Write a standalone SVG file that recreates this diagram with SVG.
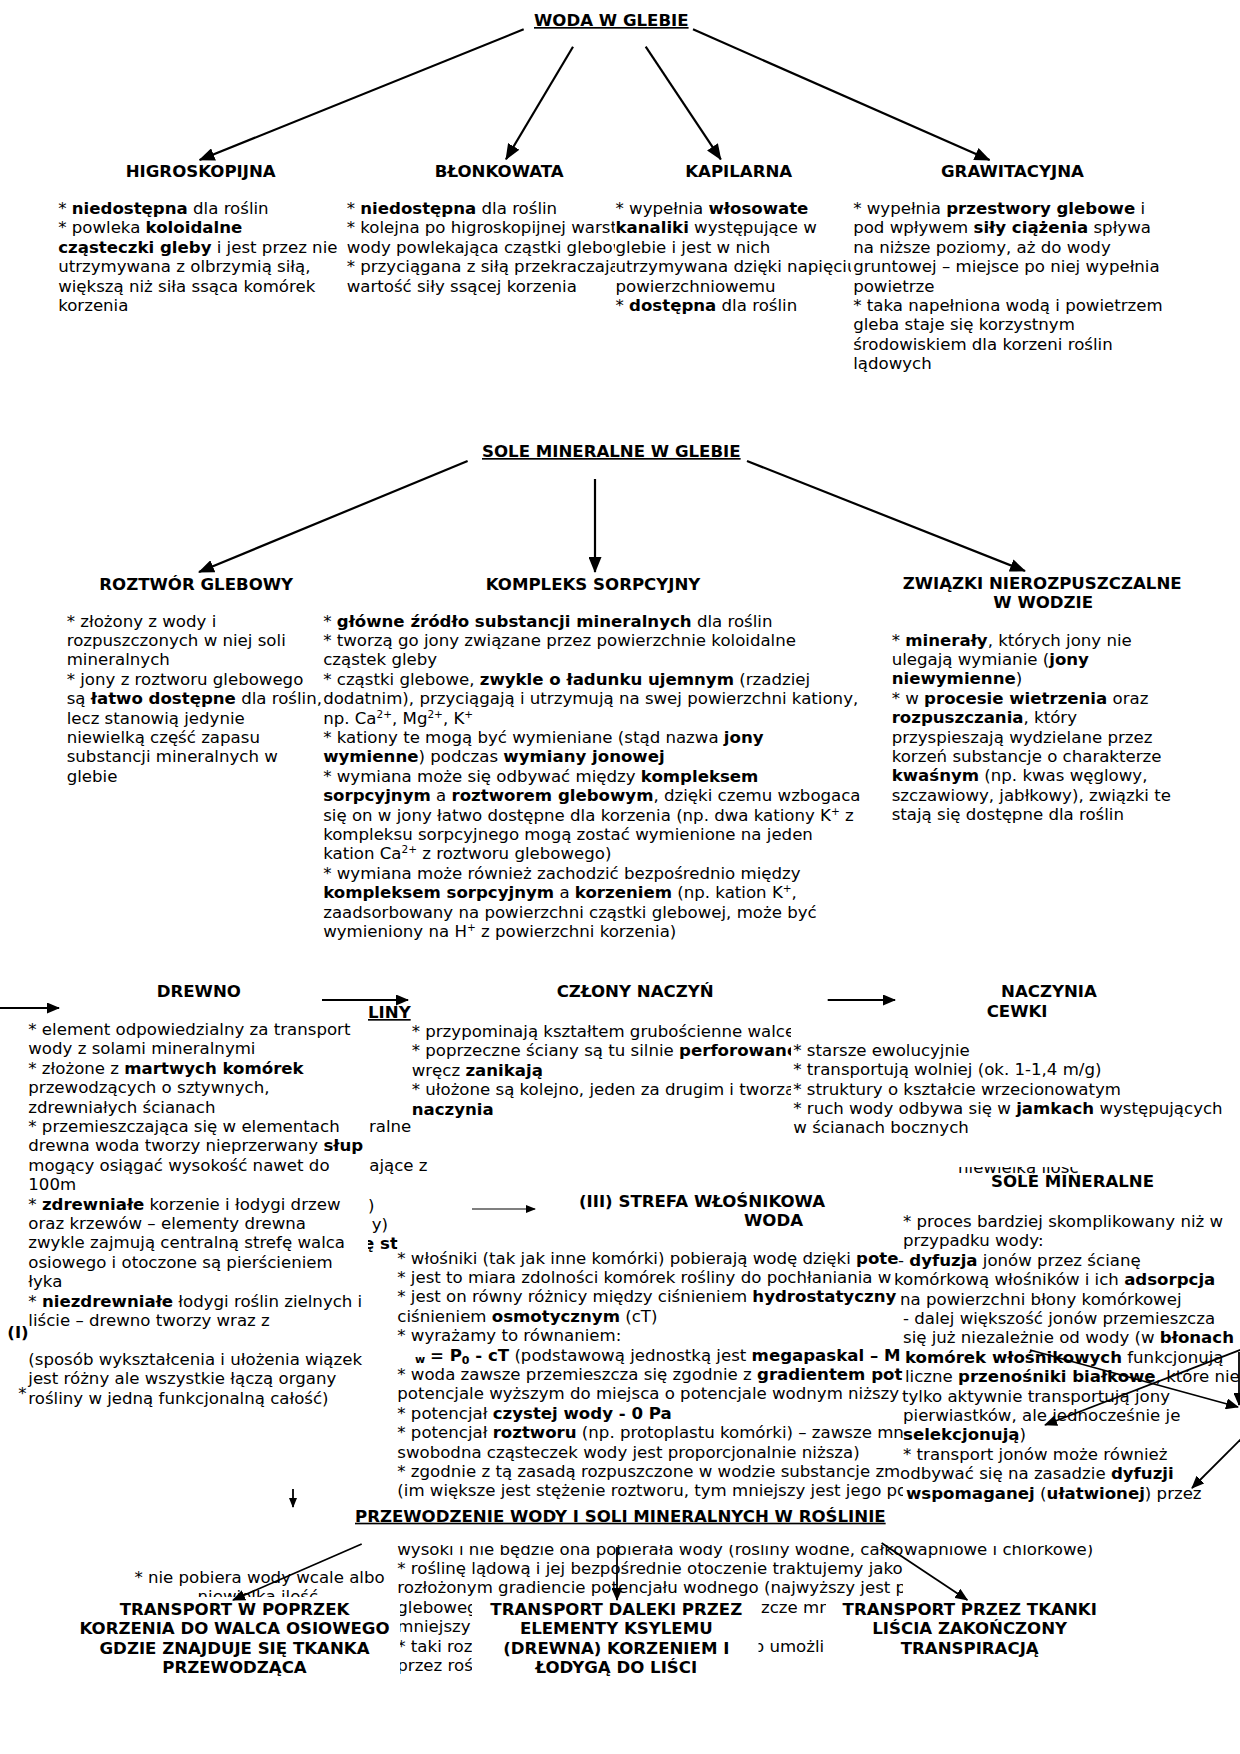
<svg xmlns="http://www.w3.org/2000/svg" width="1240" height="1754" viewBox="0 0 1240 1754">
<style>
text{font-family:"DejaVu Sans",Verdana,sans-serif;font-size:16.6px;fill:#000}
.b{font-weight:bold}
.u{text-decoration:underline}
.m{text-anchor:middle}
.sm{font-size:11px}
.sup{font-size:10.5px}
.ln{stroke:#000;stroke-width:2.2;fill:none}
.ln2{stroke:#000;stroke-width:1.8;fill:none}
.ln1{stroke:#000;stroke-width:1.1;fill:none}
.w{fill:#fff}
</style>
<defs>
<marker id="ah" markerUnits="userSpaceOnUse" viewBox="0 0 16 13" markerWidth="16" markerHeight="13" refX="15" refY="6.5" orient="auto"><path d="M0,0 L16,6.5 L0,13 z"/></marker>
<marker id="ahm" markerUnits="userSpaceOnUse" viewBox="0 0 13 11" markerWidth="13" markerHeight="11" refX="12" refY="5.5" orient="auto"><path d="M0,0 L13,5.5 L0,11 z"/></marker>
<marker id="ahs" markerUnits="userSpaceOnUse" viewBox="0 0 10 8" markerWidth="10" markerHeight="8" refX="9" refY="4" orient="auto"><path d="M0,0 L10,4 L0,8 z"/></marker>
<clipPath id="cBlon"><rect x="0" y="0" width="615" height="400"/></clipPath>
<clipPath id="cKap"><rect x="0" y="0" width="851" height="400"/></clipPath>
<clipPath id="cCzl"><rect x="0" y="900" width="791" height="300"/></clipPath>
<clipPath id="cStr"><rect x="0" y="1230" width="903" height="500"/></clipPath>
<clipPath id="cH1"><rect x="368" y="1100" width="120" height="135"/><rect x="368" y="1235" width="29.5" height="25"/></clipPath>
<clipPath id="cNw1"><rect x="900" y="1167" width="200" height="6.5"/></clipPath>
<clipPath id="cNw2"><rect x="150" y="1580" width="200" height="17"/></clipPath>
</defs>
<rect width="1240" height="1754" fill="#fff"/>

<g id="n-woda"><text class="b u" x="534" y="26">WODA W GLEBIE</text></g>

<g id="n-higroskopijna">
<text class="b" x="125.7" y="177">HIGROSKOPIJNA</text>
<text x="58.2" y="214">* <tspan class="b">niedostępna</tspan> dla roślin</text>
<text x="58.2" y="233.4">* powleka <tspan class="b">koloidalne</tspan></text>
<text x="58.2" y="252.8"><tspan class="b">cząsteczki gleby</tspan> i jest przez nie</text>
<text x="58.2" y="272.2">utrzymywana z olbrzymią siłą,</text>
<text x="58.2" y="291.6">większą niż siła ssąca komórek</text>
<text x="58.2" y="311">korzenia</text>
</g>

<g id="n-blonkowata">
<text class="b" x="434.8" y="177">BŁONKOWATA</text>
<g clip-path="url(#cBlon)">
<text x="346.7" y="214">* <tspan class="b">niedostępna</tspan> dla roślin</text>
<text x="346.7" y="233.4">* kolejna po higroskopijnej warstwie</text>
<text x="346.7" y="252.8">wody powlekająca cząstki glebowe</text>
<text x="346.7" y="272.2">* przyciągana z siłą przekraczającą</text>
<text x="346.7" y="291.6">wartość siły ssącej korzenia</text>
</g>
</g>

<g id="n-kapilarna">
<text class="b" x="685.2" y="177">KAPILARNA</text>
<g clip-path="url(#cKap)">
<text x="615.5" y="214">* wypełnia <tspan class="b">włosowate</tspan></text>
<text x="615.5" y="233.4"><tspan class="b">kanaliki</tspan> występujące w</text>
<text x="615.5" y="252.8">glebie i jest w nich</text>
<text x="615.5" y="272.2">utrzymywana dzięki napięciu</text>
<text x="615.5" y="291.6">powierzchniowemu</text>
<text x="615.5" y="311">* <tspan class="b">dostępna</tspan> dla roślin</text>
</g>
</g>

<g id="n-grawitacyjna">
<text class="b" x="941" y="177">GRAWITACYJNA</text>
<text x="853.2" y="214">* wypełnia <tspan class="b">przestwory glebowe</tspan> i</text>
<text x="853.2" y="233.4">pod wpływem <tspan class="b">siły ciążenia</tspan> spływa</text>
<text x="853.2" y="252.8">na niższe poziomy, aż do wody</text>
<text x="853.2" y="272.2">gruntowej – miejsce po niej wypełnia</text>
<text x="853.2" y="291.6">powietrze</text>
<text x="853.2" y="311">* taka napełniona wodą i powietrzem</text>
<text x="853.2" y="330.4">gleba staje się korzystnym</text>
<text x="853.2" y="349.8">środowiskiem dla korzeni roślin</text>
<text x="853.2" y="369.2">lądowych</text>
</g>

<g id="n-sole"><text class="b u" x="482" y="457">SOLE MINERALNE W GLEBIE</text></g>

<g id="n-roztwor">
<text class="b" x="99.3" y="589.5">ROZTWÓR GLEBOWY</text>
<text x="66.7" y="626.5">* złożony z wody i</text>
<text x="66.7" y="645.9">rozpuszczonych w niej soli</text>
<text x="66.7" y="665.3">mineralnych</text>
<text x="66.7" y="684.7">* jony z roztworu glebowego</text>
<text x="66.7" y="704.1">są <tspan class="b">łatwo dostępne</tspan> dla roślin,</text>
<text x="66.7" y="723.5">lecz stanowią jedynie</text>
<text x="66.7" y="742.9">niewielką część zapasu</text>
<text x="66.7" y="762.3">substancji mineralnych w</text>
<text x="66.7" y="781.7">glebie</text>
</g>

<g id="n-kompleks">
<text class="b" x="485.7" y="589.5">KOMPLEKS SORPCYJNY</text>
<text x="323.2" y="626.5">* <tspan class="b">główne źródło substancji mineralnych</tspan> dla roślin</text>
<text x="323.2" y="645.9">* tworzą go jony związane przez powierzchnie koloidalne</text>
<text x="323.2" y="665.3">cząstek gleby</text>
<text x="323.2" y="684.7">* cząstki glebowe, <tspan class="b">zwykle o ładunku ujemnym</tspan> (rzadziej</text>
<text x="323.2" y="704.1">dodatnim), przyciągają i utrzymują na swej powierzchni kationy,</text>
<text x="323.2" y="723.5">np. Ca<tspan class="sup" baseline-shift="super">2+</tspan>, Mg<tspan class="sup" baseline-shift="super">2+</tspan>, K<tspan class="sup" baseline-shift="super">+</tspan></text>
<text x="323.2" y="742.9">* kationy te mogą być wymieniane (stąd nazwa <tspan class="b">jony</tspan></text>
<text x="323.2" y="762.3"><tspan class="b">wymienne</tspan>) podczas <tspan class="b">wymiany jonowej</tspan></text>
<text x="323.2" y="781.7">* wymiana może się odbywać między <tspan class="b">kompleksem</tspan></text>
<text x="323.2" y="801.1"><tspan class="b">sorpcyjnym</tspan> a <tspan class="b">roztworem glebowym</tspan>, dzięki czemu wzbogaca</text>
<text x="323.2" y="820.5">się on w jony łatwo dostępne dla korzenia (np. dwa kationy K<tspan class="sup" baseline-shift="super">+</tspan> z</text>
<text x="323.2" y="839.9">kompleksu sorpcyjnego mogą zostać wymienione na jeden</text>
<text x="323.2" y="859.3">kation Ca<tspan class="sup" baseline-shift="super">2+</tspan> z roztworu glebowego)</text>
<text x="323.2" y="878.7">* wymiana może również zachodzić bezpośrednio między</text>
<text x="323.2" y="898.1"><tspan class="b">kompleksem sorpcyjnym</tspan> a <tspan class="b">korzeniem</tspan> (np. kation K<tspan class="sup" baseline-shift="super">+</tspan>,</text>
<text x="323.2" y="917.5">zaadsorbowany na powierzchni cząstki glebowej, może być</text>
<text x="323.2" y="936.9">wymieniony na H<tspan class="sup" baseline-shift="super">+</tspan> z powierzchni korzenia)</text>
</g>

<g id="n-zwiazki">
<text class="b" x="902.7" y="588.5">ZWIĄZKI NIEROZPUSZCZALNE</text>
<text class="b" x="993.3" y="608">W WODZIE</text>
<text x="891.7" y="645.5">* <tspan class="b">minerały</tspan>, których jony nie</text>
<text x="891.7" y="664.9">ulegają wymianie (<tspan class="b">jony</tspan></text>
<text x="891.7" y="684.3"><tspan class="b">niewymienne</tspan>)</text>
<text x="891.7" y="703.7">* w <tspan class="b">procesie wietrzenia</tspan> oraz</text>
<text x="891.7" y="723.1"><tspan class="b">rozpuszczania</tspan>, który</text>
<text x="891.7" y="742.5">przyspieszają wydzielane przez</text>
<text x="891.7" y="761.9">korzeń substancje o charakterze</text>
<text x="891.7" y="781.3"><tspan class="b">kwaśnym</tspan> (np. kwas węglowy,</text>
<text x="891.7" y="800.7">szczawiowy, jabłkowy), związki te</text>
<text x="891.7" y="820.1">stają się dostępne dla roślin</text>
</g>

<g id="frag-hidden" clip-path="url(#cH1)">
<text x="369" y="1131.5">ralne</text>
<text x="369.3" y="1171">ające z</text>
<text x="368" y="1210.5">)</text>
<text x="371.7" y="1229.5">y)</text>
<text x="363" y="1249" class="b">ę st</text>
</g>

<g id="n-drewno">
<text class="b" x="156.7" y="996.7">DREWNO</text>
<text x="28.3" y="1035">* element odpowiedzialny za transport</text>
<text x="28.3" y="1054.4">wody z solami mineralnymi</text>
<text x="28.3" y="1073.8">* złożone z <tspan class="b">martwych komórek</tspan></text>
<text x="28.3" y="1093.2">przewodzących o sztywnych,</text>
<text x="28.3" y="1112.6">zdrewniałych ścianach</text>
<text x="28.3" y="1132">* przemieszczająca się w elementach</text>
<text x="28.3" y="1151.4">drewna woda tworzy nieprzerwany <tspan class="b">słup</tspan></text>
<text x="28.3" y="1170.8">mogący osiągać wysokość nawet do</text>
<text x="28.3" y="1190.2">100m</text>
<text x="28.3" y="1209.6">* <tspan class="b">zdrewniałe</tspan> korzenie i łodygi drzew</text>
<text x="28.3" y="1229">oraz krzewów – elementy drewna</text>
<text x="28.3" y="1248.4">zwykle zajmują centralną strefę walca</text>
<text x="28.3" y="1267.8">osiowego i otoczone są pierścieniem</text>
<text x="28.3" y="1287.2">łyka</text>
<text x="28.3" y="1306.6">* <tspan class="b">niezdrewniałe</tspan> łodygi roślin zielnych i</text>
<text x="28.3" y="1326">liście – drewno tworzy wraz z</text>
<text x="28.3" y="1364.8">(sposób wykształcenia i ułożenia wiązek</text>
<text x="28.3" y="1384.2">jest różny ale wszystkie łączą organy</text>
<text x="28.3" y="1403.6">rośliny w jedną funkcjonalną całość)</text>
</g>
<g id="frag-left">
<text class="b" x="7.3" y="1338">(I)</text>
<text x="18.3" y="1399">*</text>
</g>

<g id="n-liny"><text class="b u" x="368" y="1018">LINY</text></g>

<g id="n-czlony">
<text class="b" x="556.7" y="996.7">CZŁONY NACZYŃ</text>
<g clip-path="url(#cCzl)">
<text x="411.7" y="1037">* przypominają kształtem grubościenne walce</text>
<text x="411.7" y="1056.4">* poprzeczne ściany są tu silnie <tspan class="b">perforowane</tspan></text>
<text x="411.7" y="1075.8">wręcz <tspan class="b">zanikają</tspan></text>
<text x="411.7" y="1095.2">* ułożone są kolejno, jeden za drugim i tworzą</text>
<text x="411.7" y="1114.6" class="b">naczynia</text>
</g>
</g>

<g id="n-naczynia">
<text class="b" x="1001" y="996.7">NACZYNIA</text>
<text class="b" x="986.7" y="1016.7">CEWKI</text>
<text x="793.3" y="1055.5">* starsze ewolucyjnie</text>
<text x="793.3" y="1075">* transportują wolniej (ok. 1-1,4 m/g)</text>
<text x="793.3" y="1094.5">* struktury o kształcie wrzecionowatym</text>
<text x="793.3" y="1114">* ruch wody odbywa się w <tspan class="b">jamkach</tspan> występujących</text>
<text x="793.3" y="1133">w ścianach bocznych</text>
</g>

<g id="frag-niewielka1" clip-path="url(#cNw1)"><text x="958" y="1173">niewielką ilość</text></g>

<g id="n-strefa">
<text class="b" x="579" y="1206.7">(III) STREFA WŁOŚNIKOWA</text>
<text class="b" x="744" y="1226">WODA</text>
<g clip-path="url(#cStr)">
<text x="397.3" y="1263.5">* włośniki (tak jak inne komórki) pobierają wodę dzięki <tspan class="b">pote</tspan></text>
<text x="397.3" y="1282.9">* jest to miara zdolności komórek rośliny do pochłaniania w</text>
<text x="397.3" y="1302.3">* jest on równy różnicy między ciśnieniem <tspan class="b">hydrostatyczny</tspan></text>
<text x="397.3" y="1321.7">ciśnieniem <tspan class="b">osmotycznym</tspan> (cT)</text>
<text x="397.3" y="1341.1">* wyrażamy to równaniem:</text>
<text x="415" y="1363" class="b sm">w</text>
<text x="430" y="1360.5"><tspan class="b">= P</tspan><tspan class="b sm" dy="3">0</tspan><tspan class="b" dy="-3"> - cT</tspan> (podstawową jednostką jest <tspan class="b">megapaskal – M</tspan></text>
<text x="397.3" y="1379.9">* woda zawsze przemieszcza się zgodnie z <tspan class="b">gradientem pot</tspan></text>
<text x="397.3" y="1399.3">potencjale wyższym do miejsca o potencjale wodnym niższy</text>
<text x="397.3" y="1418.7">* potencjał <tspan class="b">czystej wody - 0 Pa</tspan></text>
<text x="397.3" y="1438.1">* potencjał <tspan class="b">roztworu</tspan> (np. protoplastu komórki) – zawsze mn</text>
<text x="397.3" y="1457.5">swobodna cząsteczek wody jest proporcjonalnie niższa)</text>
<text x="397.3" y="1476.9">* zgodnie z tą zasadą rozpuszczone w wodzie substancje zm</text>
<text x="397.3" y="1496.3">(im większe jest stężenie roztworu, tym mniejszy jest jego po</text>
<text x="397.3" y="1554.5">wysoki i nie będzie ona pobierała wody (rośliny wodne, całko</text>
<text x="397.3" y="1573.9">* roślinę lądową i jej bezpośrednie otoczenie traktujemy jako</text>
<text x="397.3" y="1593.3">rozłożonym gradiencie potencjału wodnego (najwyższy jest po</text>
<text x="397.3" y="1612.7">glebowego</text>
<text x="761" y="1612.7">zcze mn</text>
<text x="397.3" y="1632.1">mniejszy</text>
<text x="397.3" y="1651.5">* taki roz</text>
<text x="754" y="1651.5">o umożli</text>
<text x="397.3" y="1670.9">przez roś</text>
</g>
</g>

<g id="n-sole-mineralne">
<text class="b" x="991" y="1187.3">SOLE MINERALNE</text>
<text x="903" y="1227">* proces bardziej skomplikowany niż w</text>
<text x="903" y="1246.4">przypadku wody:</text>
<text x="898" y="1265.8">- <tspan class="b">dyfuzja</tspan> jonów przez ścianę</text>
<text x="894" y="1285.2">komórkową włośników i ich <tspan class="b">adsorpcja</tspan></text>
<text x="900" y="1304.6">na powierzchni błony komórkowej</text>
<text x="903" y="1324">- dalej większość jonów przemieszcza</text>
<text x="903" y="1343.4">się już niezależnie od wody (w <tspan class="b">błonach</tspan></text>
<text x="905" y="1362.8"><tspan class="b">komórek włośnikowych</tspan> funkcjonują</text>
<text x="905" y="1382.2">liczne <tspan class="b">przenośniki białkowe</tspan>, które nie</text>
<text x="902" y="1401.6">tylko aktywnie transportują jony</text>
<text x="903" y="1421">pierwiastków, ale jednocześnie je</text>
<text x="903" y="1440.4"><tspan class="b">selekcjonują</tspan>)</text>
<text x="903" y="1459.8">* transport jonów może również</text>
<text x="900" y="1479.2">odbywać się na zasadzie <tspan class="b">dyfuzji</tspan></text>
<text x="906" y="1498.6"><tspan class="b">wspomaganej</tspan> (<tspan class="b">ułatwionej</tspan>) przez</text>
<text x="904" y="1555">wapniowe i chlorkowe)</text>
</g>

<g id="n-przewodzenie">
<rect class="w" x="0" y="1507" width="1240" height="38"/>
<text class="b u" x="355" y="1521.7">PRZEWODZENIE WODY I SOLI MINERALNYCH W ROŚLINIE</text>
</g>

<g id="frag-bottom-left">
<text x="134.4" y="1583">* nie pobiera wody wcale albo</text>
<g clip-path="url(#cNw2)"><text x="197.6" y="1602">niewielką ilość</text></g>
</g>

<g id="n-transport-poprzek">
<rect class="w" x="55" y="1597" width="345" height="90"/>
<text class="b m" x="234.5" y="1615">TRANSPORT W POPRZEK</text>
<text class="b m" x="234.5" y="1634.4">KORZENIA DO WALCA OSIOWEGO</text>
<text class="b m" x="234.5" y="1653.8">GDZIE ZNAJDUJE SIĘ TKANKA</text>
<text class="b m" x="234.5" y="1673.2">PRZEWODZĄCA</text>
</g>
<g id="n-transport-daleki">
<rect class="w" x="472" y="1597" width="286.5" height="90"/>
<text class="b m" x="616.3" y="1615">TRANSPORT DALEKI PRZEZ</text>
<text class="b m" x="616.3" y="1634.4">ELEMENTY KSYLEMU</text>
<text class="b m" x="616.3" y="1653.8">(DREWNA) KORZENIEM I</text>
<text class="b m" x="616.3" y="1673.2">ŁODYGĄ DO LIŚCI</text>
</g>
<g id="n-transport-tkanki">
<rect class="w" x="826" y="1597" width="414" height="90"/>
<text class="b m" x="969.7" y="1615">TRANSPORT PRZEZ TKANKI</text>
<text class="b m" x="969.7" y="1634.4">LIŚCIA ZAKOŃCZONY</text>
<text class="b m" x="969.7" y="1653.8">TRANSPIRACJĄ</text>
</g>

<g id="connectors">
<line class="ln" x1="523.7" y1="29.3" x2="199.6" y2="160" marker-end="url(#ah)"/>
<line class="ln" x1="573" y1="46.7" x2="506" y2="159.3" marker-end="url(#ah)"/>
<line class="ln" x1="645.7" y1="46.7" x2="720.8" y2="159.3" marker-end="url(#ah)"/>
<line class="ln" x1="693" y1="29.3" x2="989.6" y2="160" marker-end="url(#ah)"/>
<line class="ln" x1="467.6" y1="461" x2="199" y2="572" marker-end="url(#ah)"/>
<line class="ln" x1="595" y1="479" x2="595" y2="572" marker-end="url(#ah)"/>
<line class="ln" x1="747" y1="461" x2="1025" y2="571" marker-end="url(#ah)"/>
<line class="ln2" x1="0" y1="1008" x2="59" y2="1008" marker-end="url(#ahm)"/>
<line class="ln2" x1="322" y1="1000" x2="408" y2="1000" marker-end="url(#ahm)"/>
<line class="ln2" x1="827.7" y1="1000" x2="895" y2="1000" marker-end="url(#ahm)"/>
<line class="ln1" x1="472" y1="1209" x2="535" y2="1209" marker-end="url(#ahs)"/>
<line class="ln2" x1="1030" y1="1350" x2="1238" y2="1407" marker-end="url(#ahm)"/>
<line class="ln2" x1="1245" y1="1348" x2="1045" y2="1425" marker-end="url(#ahm)"/>
<line class="ln2" x1="1239" y1="1352" x2="1239" y2="1405" marker-end="url(#ahm)"/>
<line class="ln2" x1="1245" y1="1435" x2="1192" y2="1488" marker-end="url(#ahm)"/>
<line class="ln2" x1="293" y1="1489" x2="293" y2="1507" marker-end="url(#ahs)"/>
<line class="ln2" x1="361.7" y1="1544" x2="233" y2="1600" marker-end="url(#ahm)"/>
<line class="ln2" x1="617" y1="1547" x2="617" y2="1600" marker-end="url(#ahm)"/>
<line class="ln2" x1="881.6" y1="1543" x2="967.3" y2="1600" marker-end="url(#ahm)"/>
</g>
</svg>
